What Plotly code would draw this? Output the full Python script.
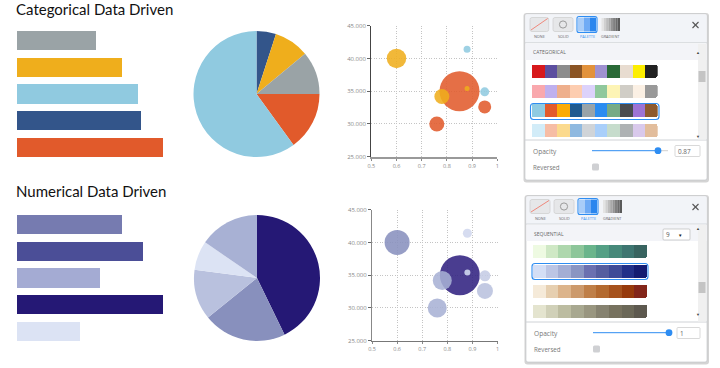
import plotly.graph_objects as go

W, H = 720, 368

# ---- data ----
bar_categories = ["A", "B", "C", "D", "E"]
cat_bar_values = [54, 72, 83, 85, 100]
cat_bar_colors = ["#9aa3a6", "#efae1c", "#90cae0", "#33558a", "#e15a2b"]
num_bar_values = [72, 86, 57, 100, 43]
num_bar_colors = ["#767bb0", "#4b4e97", "#a4abd3", "#251875", "#dce3f4"]

cat_pie_values = [5, 9, 11, 15, 60]
cat_pie_colors = ["#33558a", "#efae1c", "#9aa3a6", "#e15a2b", "#90cae0"]
num_pie_values = [43, 21.5, 13, 7.5, 15.5]
num_pie_colors = ["#251875", "#8890bd", "#b9c1de", "#dce3f4", "#a8b1d4"]

bubble_x = [0.85, 0.6, 0.76, 0.95, 0.78, 0.95, 0.88, 0.88]
bubble_y = [35000, 40000, 30000, 32600, 34200, 34900, 41400, 35400]
cat_bubble_size = [40, 19.5, 15, 13, 15, 9, 7, 5]
cat_bubble_colors = ["#e15a2b", "#efae1c", "#e15a2b", "#e15a2b", "#efae1c",
                     "#90cae0", "#90cae0", "#efae1c"]
num_bubble_size = [40, 25, 19, 16, 19, 11, 9, 6]
num_bubble_colors = ["#2f2080", "#8890bd", "#a8b1d4", "#b9c1de", "#a8b1d4",
                     "#c4cbe5", "#d0d7ee", "#d5dcf2"]

x_ticks = [0.5, 0.6, 0.7, 0.8, 0.9, 1]
x_labels = ["0.5", "0.6", "0.7", "0.8", "0.9", "1"]
y_ticks = [25000, 30000, 35000, 40000, 45000]
y_labels = ["25.000", "30.000", "35.000", "40.000", "45.000"]

categorical_palettes = [
    ["#d7191c", "#5c4f9f", "#8c8c8c", "#8b5524", "#e2923b", "#9f92d0", "#2a6a37", "#e8dcd0", "#fdee00", "#222222"],
    ["#f9a8ad", "#bfb0ee", "#eeaf8c", "#fdcdb0", "#dcd2fb", "#90c89c", "#fdf4b5", "#d0cdc6", "#fbf0e4", "#999999"],
    ["#8fcbe2", "#e25a2b", "#fbab07", "#1f5a90", "#98a3a8", "#2a8cf0", "#76ab86", "#4a4c50", "#9d73d4", "#8e5a2e"],
    ["#d2ecf8", "#f6bda5", "#fbda8e", "#8fb9e0", "#d0d4d8", "#a9cffa", "#c6dccc", "#aeb2b4", "#d9c9ec", "#e2bd9c"],
]
sequential_palettes = [
    ["#eefae2", "#cfe8c5", "#aed7ad", "#8dc69a", "#6ab58c", "#54a085", "#46897a", "#3e7671", "#386460"],
    ["#d4def5", "#bcc5e4", "#a4aed4", "#8a95c2", "#6b70b0", "#565e9f", "#3f4b97", "#223089", "#141c72"],
    ["#f5ead9", "#e6cfb0", "#dcb48b", "#cc9a6c", "#bf7f48", "#b36a30", "#a6521d", "#973a0c", "#83261a"],
    ["#e4e4cf", "#d0d0b8", "#bcbca1", "#a8a890", "#999680", "#868270", "#77725f", "#6b6858", "#5d594f"],
]
button_labels = ["NONE", "SOLID", "PALETTE", "GRADIENT"]
gradient_steps = ["#e4e4e4", "#d0d0d0", "#bcbcbc", "#a8a8a8", "#949494", "#808080", "#6c6c6c", "#5a5a5a"]

# ---- helpers ----
fx = lambda x: x / W
fy = lambda y: 1 - y / H
dx = lambda a, b: [fx(a), fx(b)]
dy = lambda top, bot: [fy(bot), fy(top)]

shapes, annos = [], []
FONT = "Open Sans"


def rrect_path(x0, y0, x1, y1, r):
    a, b, c, d = fx(x0), fx(x1), fy(y0), fy(y1)
    rx, ry = r / W, r / H
    return (f"M{a+rx},{c} L{b-rx},{c} Q{b},{c} {b},{c-ry} L{b},{d+ry} Q{b},{d} {b-rx},{d} "
            f"L{a+rx},{d} Q{a},{d} {a},{d+ry} L{a},{c-ry} Q{a},{c} {a+rx},{c} Z")


def rrect(x0, y0, x1, y1, r=2, fill="rgba(0,0,0,0)", line=None, lw=1, layer="below"):
    shapes.append(dict(type="path", path=rrect_path(x0, y0, x1, y1, r), xref="paper", yref="paper",
                       fillcolor=fill, line=dict(color=line or "rgba(0,0,0,0)", width=lw if line else 0), layer=layer))


def rect(x0, y0, x1, y1, fill):
    shapes.append(dict(type="rect", x0=fx(x0), x1=fx(x1), y0=fy(y1), y1=fy(y0), xref="paper", yref="paper",
                       fillcolor=fill, line=dict(width=0), layer="below"))


def line(x0, y0, x1, y1, color, w=1):
    shapes.append(dict(type="line", x0=fx(x0), x1=fx(x1), y0=fy(y0), y1=fy(y1), xref="paper", yref="paper",
                       line=dict(color=color, width=w), layer="below"))


def circle(cx, cy, r, fill, border=None, layer="below"):
    shapes.append(dict(type="circle", x0=fx(cx - r), x1=fx(cx + r), y0=fy(cy + r), y1=fy(cy - r),
                       xref="paper", yref="paper", fillcolor=fill,
                       line=dict(color=border or fill, width=1 if border else 0), layer=layer))


def text(x, y, s, size, color="#666", anchor="left", family=FONT):
    annos.append(dict(x=fx(x), y=fy(y), xref="paper", yref="paper", text=s, showarrow=False,
                      xanchor=anchor, yanchor="middle", align=anchor, borderpad=0, borderwidth=0,
                      font=dict(size=size, color=color, family=family)))


def panel(left, right, top, bottom, btn_xs, btn_top, btn_bot, sep1, band_bot, sep2,
          title, title_y, opacity_y, rev_y, slider, knob, input_box, op_val, thumb, sel):
    # shadow and body
    rrect(left - 1.5, top - 1, right + 2, bottom + 2.5, r=3, fill="#d4d4d4")
    rrect(left, top, right, bottom, r=2, fill="#ffffff", line="#bfc3c8", lw=0.6)
    rect(left + 0.5, top + 0.5, right - 0.5, sep1, "#f2f4f8")
    rect(left + 0.5, sep1 + 1, right - 0.5, band_bot, "#f3f4f8")
    line(left, sep1, right, sep1, "#d5d8dc", 1)
    line(left, sep2, right, sep2, "#cfd2d6", 1)
    # scrollbar
    rect(right - 9, band_bot - 16, right - 1, sep2 - 0.5, "#f0f0f0")
    rect(right - 8.5, thumb[0], right - 1.5, thumb[1], "#c4c4c4")
    annos.append(dict(x=fx(right - 5), y=fy(band_bot - 12.5), xref="paper", yref="paper", text="▲", showarrow=False,
                      font=dict(size=4, color="#444")))
    annos.append(dict(x=fx(right - 5), y=fy(sep2 - 3.5), xref="paper", yref="paper", text="▼", showarrow=False,
                      font=dict(size=4, color="#444")))
    # buttons
    (a0, a1), (b0, b1), (c0, c1), (d0, d1) = btn_xs
    rrect(a0, btn_top, a1, btn_bot, fill="#e6e7e9", line="#d0d0d0", lw=0.8)
    line(a0 + 1, btn_bot - 1.5, a1 - 1, btn_top + 1, "#ef7d6e", 0.9)
    rrect(b0, btn_top, b1, btn_bot, fill="#e6e7e9", line="#d0d0d0", lw=0.8)
    circle((b0 + b1) / 2, (btn_top + btn_bot) / 2, 3.6, "#e6e7e9", "#9a9a9a")
    rrect(c0, btn_top - 1, c1, btn_bot + 1, fill="#ffffff", line="#2e8df2", lw=1.1)
    sw = (c1 - c0 - 2) / 3
    for i, col in enumerate(["#a9cdf8", "#6fabf5", "#2a86ee"]):
        rect(c0 + 1 + i * sw, btn_top, c0 + 1 + (i + 1) * sw, btn_bot, col)
    gw = (d1 - d0) / len(gradient_steps)
    for i, col in enumerate(gradient_steps):
        rect(d0 + i * gw, btn_top + 0.5, d0 + (i + 1) * gw, btn_bot - 0.5, col)
    for (x0, x1), lab in zip(btn_xs, button_labels):
        text((x0 + x1) / 2, btn_bot + 5.3, lab, 3.8, "#2e8df2" if lab == "PALETTE" else "#666", "center")
    # close
    cx, cy = right - 11.5, (btn_top + btn_bot) / 2 + 0.5
    line(cx - 3, cy - 3, cx + 3, cy + 3, "#555", 1.1)
    line(cx - 3, cy + 3, cx + 3, cy - 3, "#555", 1.1)
    text(left + 7.5, title_y, title, 5, "#666")
    # bottom controls
    text(left + 7.5, opacity_y, "Opacity", 6.6, "#777")
    text(left + 7.5, rev_y, "Reversed", 6.2, "#777")
    line(slider, opacity_y - 0.3, knob, opacity_y - 0.3, "#2e8df2", 1)
    line(knob, opacity_y - 0.3, slider + 76, opacity_y - 0.3, "#d0d0d0", 1)
    circle(knob, opacity_y - 0.3, 3.4, "#2e8df2")
    rrect(input_box[0], opacity_y - 5.5, input_box[1], opacity_y + 5.5, r=1, fill="#ffffff", line="#c9c9c9", lw=0.7)
    text(input_box[0] + 3, opacity_y, op_val, 6.4, "#666")
    rrect(slider, rev_y - 3.5, slider + 7, rev_y + 3.5, r=1.5, fill="#cfd0d3")
    # selected palette outline (above traces)
    rrect(sel[0], sel[1], sel[2], sel[3], r=3, line="#2e8df2", lw=1.1, layer="above")


panel(525, 707, 14, 180, [(530, 548.7), (553, 573), (577, 597), (601.5, 620)], 17.5, 31.5, 42.7, 60, 140,
      "CATEGORICAL", 51.5, 151, 167, 592, 658, (675, 700), "0.87", (71, 82), (530.5, 103.5, 659, 119.5))
panel(526, 707, 196, 362, [(530, 550), (554, 574), (578, 598), (603, 622)], 199.5, 213.5, 224, 241, 322,
      "SEQUENTIAL", 233.5, 333, 349, 593, 669, (677, 700), "1", (282, 293), (532, 263.5, 648, 279.5))

# sequential size dropdown
rrect(663, 229, 690, 240, r=1, fill="#ffffff", line="#bbbbbb", lw=0.7)
text(666, 234.5, "9", 6.4, "#555")
annos.append(dict(x=fx(684), y=fy(234.5), xref="paper", yref="paper", text="▼", showarrow=False,
                  font=dict(size=4.5, color="#222")))

text(16, 9, "Categorical Data Driven", 15, "#111", family="Lato")
text(16, 191, "Numerical Data Driven", 15, "#111", family="Lato")

# ---- traces ----
fig = go.Figure()


def bars(values, colors, ax):
    fig.add_trace(go.Bar(x=values, y=bar_categories, orientation="h", marker=dict(color=colors, line=dict(width=0)),
                         width=0.71, xaxis=f"x{ax}", yaxis=f"y{ax}", showlegend=False))


def pie(values, colors, domain):
    fig.add_trace(go.Pie(values=values, sort=False, direction="clockwise", rotation=0, textinfo="none",
                         marker=dict(colors=colors, line=dict(width=0)), domain=domain, showlegend=False))


def bubbles(sizes, colors, opac, ax):
    fig.add_trace(go.Scatter(x=bubble_x, y=bubble_y, mode="markers",
                             marker=dict(size=sizes, color=colors, opacity=opac, line=dict(width=0)),
                             xaxis=f"x{ax}", yaxis=f"y{ax}", showlegend=False, cliponaxis=False))


def swatches(palettes, ax):
    for col in range(len(palettes[0])):
        fig.add_trace(go.Bar(x=[1] * len(palettes), y=list(range(len(palettes))), orientation="h",
                             marker=dict(color=[p[col] for p in palettes], line=dict(width=0), cornerradius=2),
                             width=0.65, xaxis=f"x{ax}", yaxis=f"y{ax}", showlegend=False))


bars(cat_bar_values, cat_bar_colors, "")
bars(num_bar_values, num_bar_colors, 2)
pie(cat_pie_values, cat_pie_colors, dict(x=dx(193.5, 319.5), y=dy(31, 157)))
pie(num_pie_values, num_pie_colors, dict(x=dx(194, 320), y=dy(215, 341)))
bubbles(cat_bubble_size, cat_bubble_colors, 0.87, 3)
bubbles(num_bubble_size, num_bubble_colors, 0.87, 4)
swatches(categorical_palettes, 5)
swatches(sequential_palettes, 6)

hidden = dict(visible=False, fixedrange=True)


def sc_x(domain, color, width, anchor):
    return dict(domain=domain, anchor=anchor, range=[0.5, 1], tickvals=x_ticks, ticktext=x_labels, showgrid=True,
                gridcolor="#c4c4c4", griddash="1px,1.5px", gridwidth=1, showline=True, linecolor=color, linewidth=width,
                ticks="outside", ticklen=2.5, tickcolor="#888", tickfont=dict(size=5.5, color="#888", family=FONT),
                zeroline=False)


def sc_y(domain, color, width, anchor):
    return dict(domain=domain, anchor=anchor, range=[25000, 45000], tickvals=y_ticks, ticktext=y_labels, showgrid=True,
                gridcolor="#c4c4c4", griddash="1px,1.5px", gridwidth=1, showline=True, linecolor=color, linewidth=width,
                ticks="outside", ticklen=3, tickcolor="#666", tickfont=dict(size=6, color="#888", family=FONT),
                zeroline=False)


fig.update_layout(
    width=W, height=H, margin=dict(l=0, r=0, t=0, b=0, pad=0, autoexpand=False), autosize=False,
    paper_bgcolor="#ffffff", plot_bgcolor="rgba(0,0,0,0)", barmode="stack",
    shapes=shapes, annotations=annos, font=dict(family=FONT),
    xaxis=dict(hidden, domain=dx(17, 163), range=[0, 100], anchor="y"),
    yaxis=dict(hidden, domain=dy(27, 161), range=[4.5, -0.5], categoryorder="array", categoryarray=bar_categories, anchor="x"),
    xaxis2=dict(hidden, domain=dx(17, 163), range=[0, 100], anchor="y2"),
    yaxis2=dict(hidden, domain=dy(211, 345), range=[4.5, -0.5], categoryorder="array", categoryarray=bar_categories, anchor="x2"),
    xaxis3=sc_x(dx(371.3, 497.3), "#999", 1.6, "y3"), yaxis3=sc_y(dy(25.7, 156.7), "#444", 1.4, "x3"),
    xaxis4=sc_x(dx(372, 497.5), "#777", 1, "y4"), yaxis4=sc_y(dy(209.7, 340.7), "#888", 1.2, "x4"),
    xaxis5=dict(hidden, domain=dx(532, 657.7), range=[0, 10], anchor="y5"),
    yaxis5=dict(hidden, domain=dy(61.5, 140.4), range=[3.5, -0.5], anchor="x5"),
    xaxis6=dict(hidden, domain=dx(533, 647), range=[0, 9], anchor="y6"),
    yaxis6=dict(hidden, domain=dy(241.5, 321.5), range=[3.5, -0.5], anchor="x6"),
)

fig.write_html("out.html", config=dict(displayModeBar=False),
               post_script="document.body.style.margin='0';document.body.style.overflow='hidden';")
